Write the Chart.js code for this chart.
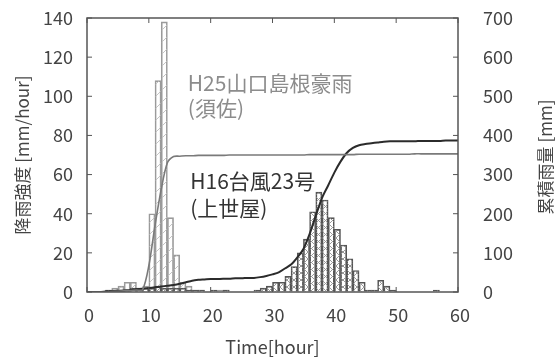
<!DOCTYPE html>
<html>
<head>
<meta charset="utf-8">
<script src="https://cdn.jsdelivr.net/npm/chart.js@4"></script>
<style>
  html, body { margin: 0; padding: 0; background: #fff; }
  #wrap { width: 557px; height: 361px; }
</style>
</head>
<body>
<div id="wrap"><canvas id="grafico" width="557" height="361"></canvas></div>
<script>
// hora de início de cada barra (chuva horária)
const horas = [0,1,2,3,4,5,6,7,8,9,10,11,12,13,14,15,16,17,18,19,20,21,22,23,24,25,26,27,28,29,
               30,31,32,33,34,35,36,37,38,39,40,41,42,43,44,45,46,47,48,49,50,51,52,53,54,55,56,57,58,59];
// H25 山口島根豪雨 (須佐) - mm/hour
const chuvaSuza = [0,0,0,1,2,3,5,5,2,3,40,108,138,38,19,5,3,1,1,0,0,1,1,0,0,0,0,0,0,0,
                   0,0,0,0,0,0,0,0,0,0,0,0,0,0,0,0,0,0,0,0,0,0,0,0,0,0,0,0,0,0];
// H16 台風23号 (上世屋) - mm/hour
const chuvaKamiseya = [0,0,0,1,1,1,1,2,2,2,2,3,2,2,2,2,1,1,1,0,1,0,1,0,0,0,0,1,2,3,
                       5,5,8,13,20,27,41,51,47,38,32,24,17,11,5,1,1,6,3,1,0,0,0,0,0,0,1,0,0,0];

// horas do acumulado
const horasAcum = [0,1,2,3,4,5,6,7,8,9,10,11,12,13,14,15,16,17,18,19,20,21,22,23,24,25,26,27,28,29,
                   30,31,32,33,34,35,36,37,38,39,40,41,42,43,44,45,46,47,48,49,50,51,52,53,54,55,56,57,58,59,60];
// acumulado (mm)
const acumSuza = [0,0,0,0,1,2,3,4,5,6,67,170,262,330,346,347,348,348,349,349,349,349,349,350,350,350,350,350,350,350,
                  350,350,350,350,350,350,351,351,351,351,351,351,351,351,352,352,352,352,352,352,352,352,352,353,353,353,353,353,353,353,353];
const acumKamiseya = [0,0,0,1,2,3,4,5,7,8,10,12,14,16,18,21,25,29,31,32,33,33,34,34,35,35,36,36,38,41,
                      45,50,60,70,88,110,148,195,240,272,305,333,355,368,375,378,380,382,384,385,385,385,385,385,386,386,386,386,387,387,387];

const ticksX = [0, 10, 20, 30, 40, 50, 60];
const ticksEsq = [0, 20, 40, 60, 80, 100, 120, 140];
const ticksDir = [0, 100, 200, 300, 400, 500, 600, 700];

const FONTE = "'Noto Sans CJK JP', 'Noto Sans', sans-serif";

// hachuras
function criarHachura(cor, tam, cruzada) {
    const c = document.createElement('canvas');
    c.width = tam; c.height = tam;
    const g = c.getContext('2d');
    g.strokeStyle = cor;
    g.lineWidth = 1;
    g.beginPath();
    g.moveTo(0, tam); g.lineTo(tam, 0);
    g.moveTo(-1, 1); g.lineTo(1, -1);
    g.moveTo(tam - 1, tam + 1); g.lineTo(tam + 1, tam - 1);
    if (cruzada) {
        g.moveTo(0, 0); g.lineTo(tam, tam);
        g.moveTo(-1, tam - 1); g.lineTo(1, tam + 1);
        g.moveTo(tam - 1, -1); g.lineTo(tam + 1, 1);
    }
    g.stroke();
    return g.createPattern(c, 'repeat');
}

const hachuraSuza = criarHachura('#c4c4c4', 12, false);
const hachuraKamiseya = criarHachura('#9a9a9a', 7, true);

// moldura + marcas de escala para dentro
const moldura = {
    id: 'moldura',
    afterDatasetsDraw(chart) {
        const { ctx, chartArea: a, scales } = chart;
        ctx.save();
        ctx.strokeStyle = '#555';
        ctx.lineWidth = 1.5;
        ctx.strokeRect(a.left, a.top, a.right - a.left, a.bottom - a.top);
        ctx.lineWidth = 1;
        ctx.beginPath();
        ticksEsq.forEach(v => {
            const y = scales.y.getPixelForValue(v);
            ctx.moveTo(a.left, y); ctx.lineTo(a.left + 5, y);
        });
        ticksDir.forEach(v => {
            const y = scales.y2.getPixelForValue(v);
            ctx.moveTo(a.right, y); ctx.lineTo(a.right - 5, y);
        });
        ticksX.forEach(v => {
            const x = scales.x.getPixelForValue(v);
            ctx.moveTo(x, a.bottom); ctx.lineTo(x, a.bottom - 5);
            ctx.moveTo(x, a.top); ctx.lineTo(x, a.top + 5);
        });
        ctx.stroke();
        ctx.restore();
    }
};

// textos dentro do gráfico e título do eixo direito
const textos = {
    id: 'textos',
    afterDraw(chart) {
        const { ctx, scales } = chart;
        ctx.save();
        ctx.textBaseline = 'middle';
        ctx.textAlign = 'left';
        ctx.font = '21px ' + FONTE;
        ctx.fillStyle = '#8c8c8c';
        ctx.fillText('H25山口島根豪雨', scales.x.getPixelForValue(16.3), scales.y.getPixelForValue(107));
        ctx.fillText('(須佐)', scales.x.getPixelForValue(16.3), scales.y.getPixelForValue(94));
        ctx.fillStyle = '#333';
        ctx.fillText('H16台風23号', scales.x.getPixelForValue(16.7), scales.y.getPixelForValue(56.5));
        ctx.fillText('(上世屋)', scales.x.getPixelForValue(16.7), scales.y.getPixelForValue(43));

        ctx.translate(546, 157);
        ctx.rotate(-Math.PI / 2);
        ctx.textAlign = 'center';
        ctx.font = '17px ' + FONTE;
        ctx.fillStyle = '#444';
        ctx.fillText('累積雨量 [mm]', 0, 0);
        ctx.restore();
    }
};

function criarGrafico() {
    const canvas = document.getElementById('grafico');
    const ctx = canvas.getContext('2d');

    new Chart(ctx, {
        type: 'bar',
        data: {
            datasets: [
                {
                    type: 'line',
                    label: 'H25 累積',
                    data: horasAcum.map((h, i) => ({ x: h, y: acumSuza[i] })),
                    yAxisID: 'y2',
                    borderColor: '#7a7a7a',
                    borderWidth: 1.6,
                    pointRadius: 0,
                    tension: 0.3,
                    order: 0
                },
                {
                    type: 'line',
                    label: 'H16 累積',
                    data: horasAcum.map((h, i) => ({ x: h, y: acumKamiseya[i] })),
                    yAxisID: 'y2',
                    borderColor: '#2b2b2b',
                    borderWidth: 2,
                    pointRadius: 0,
                    tension: 0.3,
                    order: 0
                },
                {
                    label: 'H25山口島根豪雨',
                    data: horas.map((h, i) => ({ x: h + 0.5, y: chuvaSuza[i] })),
                    yAxisID: 'y',
                    backgroundColor: hachuraSuza,
                    borderColor: '#9a9a9a',
                    borderWidth: 1,
                    grouped: false,
                    barPercentage: 1,
                    categoryPercentage: 1,
                    order: 2
                },
                {
                    label: 'H16台風23号',
                    data: horas.map((h, i) => ({ x: h + 0.5, y: chuvaKamiseya[i] })),
                    yAxisID: 'y',
                    backgroundColor: hachuraKamiseya,
                    borderColor: '#555',
                    borderWidth: 1,
                    grouped: false,
                    barPercentage: 1,
                    categoryPercentage: 1,
                    order: 1
                }
            ]
        },
        options: {
            responsive: false,
            animation: false,
            layout: { padding: { top: 18, left: 0, right: 0, bottom: 0 } },
            plugins: {
                legend: { display: false },
                tooltip: { enabled: false }
            },
            scales: {
                x: {
                    type: 'linear',
                    min: 0,
                    max: 60,
                    offset: false,
                    grid: { display: false, offset: false, drawTicks: false },
                    border: { display: false },
                    afterBuildTicks: s => { s.ticks = ticksX.map(v => ({ value: v })); },
                    afterFit: s => { s.height = 69; },
                    ticks: {
                        color: '#444',
                        font: { family: FONTE, size: 18 },
                        padding: 12,
                        labelOffset: 2,
                        maxRotation: 0
                    },
                    title: {
                        display: true,
                        text: 'Time[hour]',
                        color: '#444',
                        font: { family: FONTE, size: 18 },
                        padding: { top: 0, bottom: 3 }
                    }
                },
                y: {
                    position: 'left',
                    min: 0,
                    max: 140,
                    grid: { display: true, drawOnChartArea: false, drawTicks: true, tickLength: 12, tickColor: 'rgba(0,0,0,0)' },
                    border: { display: false },
                    afterBuildTicks: s => { s.ticks = ticksEsq.map(v => ({ value: v })); },
                    afterFit: s => { s.width = 87; },
                    ticks: {
                        color: '#444',
                        font: { family: FONTE, size: 18 },
                        padding: 2
                    },
                    title: {
                        display: true,
                        text: '降雨強度 [mm/hour]',
                        color: '#444',
                        font: { family: FONTE, size: 17 },
                        padding: { top: 12, bottom: 0 }
                    }
                },
                y2: {
                    position: 'right',
                    min: 0,
                    max: 700,
                    grid: { display: true, drawOnChartArea: false, drawTicks: true, tickLength: 23, tickColor: 'rgba(0,0,0,0)' },
                    border: { display: false },
                    afterBuildTicks: s => { s.ticks = ticksDir.map(v => ({ value: v })); },
                    afterFit: s => { s.width = 99; },
                    ticks: {
                        color: '#444',
                        font: { family: FONTE, size: 18 },
                        padding: 2
                    }
                }
            }
        },
        plugins: [moldura, textos]
    });
}

criarGrafico();
</script>
</body>
</html>
